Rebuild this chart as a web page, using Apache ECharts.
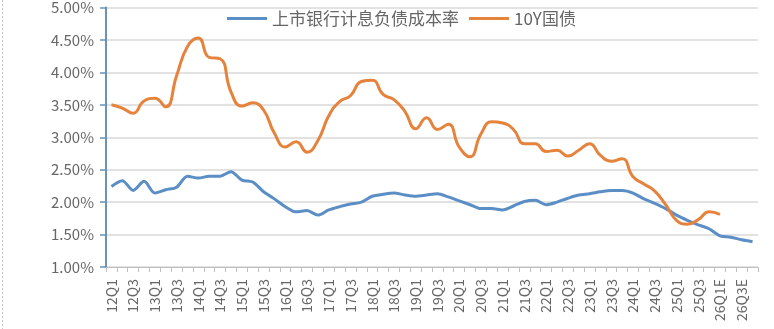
<!DOCTYPE html>
<html>
<head>
<meta charset="utf-8">
<script src="https://cdn.jsdelivr.net/npm/echarts@6/dist/echarts.min.js"></script>
<style>
html,body{margin:0;padding:0;background:#fff;}
#c{width:774px;height:329px;}
</style>
</head>
<body>
<div id="c"></div>
<script>
const categories = [
  '12Q1','12Q2','12Q3','12Q4','13Q1','13Q2','13Q3','13Q4','14Q1','14Q2','14Q3','14Q4',
  '15Q1','15Q2','15Q3','15Q4','16Q1','16Q2','16Q3','16Q4','17Q1','17Q2','17Q3','17Q4',
  '18Q1','18Q2','18Q3','18Q4','19Q1','19Q2','19Q3','19Q4','20Q1','20Q2','20Q3','20Q4',
  '21Q1','21Q2','21Q3','21Q4','22Q1','22Q2','22Q3','22Q4','23Q1','23Q2','23Q3','23Q4',
  '24Q1','24Q2','24Q3','24Q4','25Q1','25Q2','25Q3','25Q4','26Q1E','26Q2E','26Q3E','26Q4E'
];
const seriesNames = ['上市银行计息负债成本率', '10Y国债'];
const bankCost = [
  2.24,2.33,2.18,2.32,2.14,2.19,2.23,2.40,2.37,2.40,2.40,2.47,
  2.34,2.31,2.16,2.05,1.93,1.85,1.87,1.80,1.88,1.93,1.97,2.00,
  2.09,2.12,2.14,2.11,2.09,2.11,2.13,2.08,2.02,1.96,1.90,1.90,
  1.88,1.94,2.01,2.03,1.96,2.00,2.06,2.11,2.13,2.16,2.18,2.18,
  2.14,2.05,1.98,1.90,1.80,1.72,1.65,1.59,1.48,1.46,1.42,1.39
];
const bond10Y = [
  3.50,3.45,3.37,3.56,3.60,3.47,3.95,4.40,4.53,4.23,4.21,3.70,
  3.48,3.53,3.42,3.06,2.85,2.93,2.77,2.95,3.33,3.55,3.64,3.86,
  3.88,3.66,3.58,3.40,3.13,3.30,3.12,3.20,2.85,2.70,3.05,3.24,
  3.22,3.12,2.90,2.90,2.78,2.80,2.71,2.80,2.90,2.72,2.63,2.67,
  2.39,2.28,2.17,1.96,1.72,1.66,1.73,1.85,1.81,null,null,null
];
const yMin = 1, yMax = 5, yStep = 0.5;

const chart = echarts.init(document.getElementById('c'), null, {renderer: 'canvas'});
const FONT = '"Noto Sans CJK SC", "Noto Sans", sans-serif';
chart.setOption({
  animation: false,
  backgroundColor: '#ffffff',
  grid: {left: 106, right: 16, top: 3, bottom: 62, containLabel: false},
  legend: {
    left: 222, top: 5,
    icon: 'rect', itemWidth: 40, itemHeight: 3, itemGap: 10,
    textStyle: {fontFamily: FONT, fontSize: 17, color: '#666666'},
    data: seriesNames
  },
  xAxis: {
    type: 'category',
    data: categories,
    boundaryGap: true,
    axisLine: {lineStyle: {color: '#bfbfbf', width: 1}},
    axisTick: {show: true, interval: 0, length: 5, lineStyle: {color: '#bfbfbf'}},
    axisLabel: {interval: 1, rotate: 90, margin: 12, fontFamily: FONT, fontSize: 14, color: '#666666'},
    splitLine: {show: false}
  },
  yAxis: {
    type: 'value',
    min: yMin, max: yMax, interval: yStep,
    axisLine: {show: true, lineStyle: {color: '#6a93b8', width: 2}},
    axisTick: {show: true, length: 6, lineStyle: {color: '#6a93b8', width: 1.5}},
    axisLabel: {
      margin: 12, fontFamily: FONT, fontSize: 15, color: '#666666',
      formatter: v => v.toFixed(2) + '%'
    },
    splitLine: {lineStyle: {color: '#d9d9d9', width: 1.5}}
  },
  series: [
    {
      name: seriesNames[0], type: 'line', data: bankCost,
      smooth: 0.3, showSymbol: false, symbol: 'none',
      lineStyle: {color: '#5b8ec5', width: 3},
      itemStyle: {color: '#5b8ec5'}
    },
    {
      name: seriesNames[1], type: 'line', data: bond10Y,
      smooth: 0.5, showSymbol: false, symbol: 'none', connectNulls: false,
      lineStyle: {color: '#e5823c', width: 3},
      itemStyle: {color: '#e5823c'}
    }
  ],
  graphic: [
    {type: 'line', shape: {x1: 2.5, y1: 0, x2: 2.5, y2: 329},
     style: {stroke: '#c8c8c8', lineWidth: 1, lineDash: [2, 2]}, silent: true}
  ]
});
</script>
</body>
</html>
